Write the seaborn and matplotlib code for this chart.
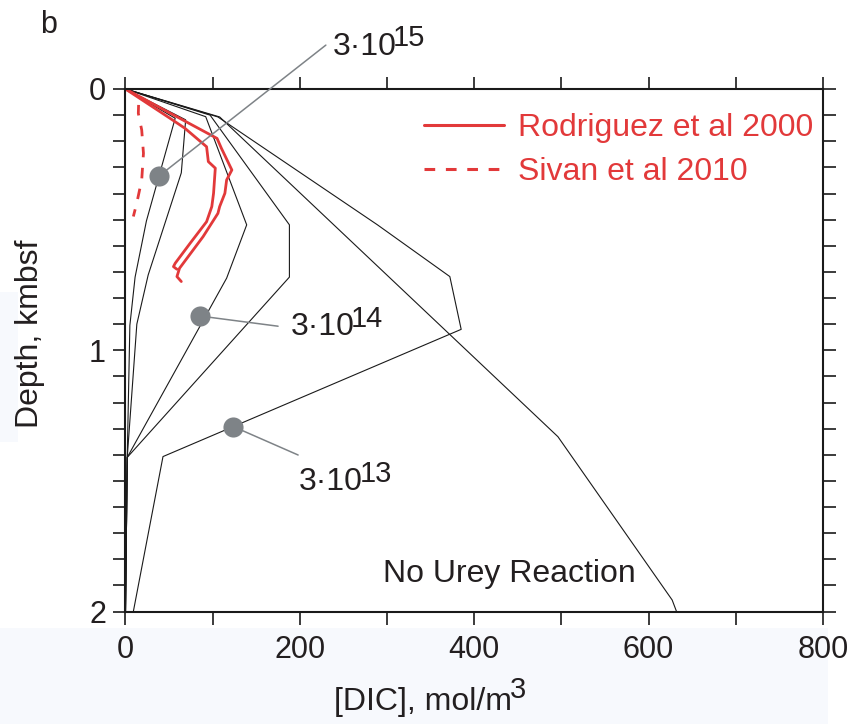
import numpy as np
import pandas as pd
import matplotlib
matplotlib.use("Agg")
import matplotlib.pyplot as plt
import seaborn as sns
from matplotlib.lines import Line2D
from matplotlib.patches import Rectangle

# ---------------- data ----------------
# model DIC profiles (x = DIC mol/m3, y = depth kmbsf)
no_urey_dic = [0, 108, 496, 627, 632]
no_urey_depth = [0, 0.107, 1.331, 1.956, 2.0]

k3e13_dic = [0, 106, 289, 372, 385, 43, 9]
k3e13_depth = [0, 0.107, 0.52, 0.718, 0.92, 1.407, 2.0]

k1e14_dic = [0, 97, 188, 188, 2, 0]
k1e14_depth = [0, 0.10, 0.52, 0.72, 1.41, 2.0]

k3e14_dic = [0, 92, 139, 116, 2, 0]
k3e14_depth = [0, 0.106, 0.52, 0.724, 1.41, 2.0]

k1e15_dic = [0, 69, 64, 26, 13, 2, 0]
k1e15_depth = [0, 0.118, 0.321, 0.712, 0.900, 1.41, 2.0]

k3e15_dic = [0, 57, 24, 11, 5, 2, 0]
k3e15_depth = [0, 0.112, 0.505, 0.720, 0.905, 1.41, 2.0]

# observations
rod_a_dic = [0, 51, 68, 93, 95, 103, 101, 99, 93, 74, 57, 55, 59]
rod_a_depth = [0, 0.112, 0.150, 0.221, 0.278, 0.303, 0.399, 0.450, 0.508, 0.591, 0.667, 0.680, 0.690]
rod_b_dic = [0, 66, 105, 110, 122, 116, 114, 108, 106, 89, 62, 59, 64]
rod_b_depth = [0, 0.119, 0.189, 0.227, 0.310, 0.348, 0.399, 0.450, 0.476, 0.565, 0.686, 0.718, 0.737]
sivan_dic = [15, 14.7, 18.6, 20.6, 18.6, 12.9, 9]
sivan_depth = [0.061, 0.093, 0.157, 0.246, 0.348, 0.437, 0.488]

# labelled points on curves
label_texts = ["15", "14", "13"]
label_dot_dic = [38.5, 85.4, 123.5]
label_dot_depth = [0.333, 0.869, 1.292]

x_ticks = [0, 200, 400, 600, 800]
y_ticks = [0, 1, 2]

# ---------------- style ----------------
sns.set_theme(style="white")
FONT = "Liberation Sans"
plt.rcParams["font.family"] = [FONT, "DejaVu Sans"]

RED = "#e2393a"
GRAY = "#7e8387"
TXT = "#231f20"
BG = "#f7f9fd"

fig = plt.figure(figsize=(8.58, 7.24), dpi=100)
# faint background bands seen in the reference
fig.patches.append(Rectangle((0, 0), 828 / 858, 96 / 724, transform=fig.transFigure,
                             facecolor=BG, edgecolor="none", zorder=-5))
fig.patches.append(Rectangle((0, 282 / 724), 18 / 858, 150 / 724, transform=fig.transFigure,
                             facecolor=BG, edgecolor="none", zorder=-5))
AX_L, AX_R, AX_T, AX_B = 125.5, 823.0, 89.0, 611.5
ax = fig.add_axes([AX_L / 858, 1 - AX_B / 724, (AX_R - AX_L) / 858, (AX_B - AX_T) / 724])
ax.set_facecolor("white")

def axfx(px):
    return (px - AX_L) / (AX_R - AX_L)

def axfy(py):
    return (AX_B - py) / (AX_B - AX_T)

def prof(xs, ys, **kw):
    df = pd.DataFrame({"dic": xs, "depth": ys})
    sns.lineplot(data=df, x="dic", y="depth", sort=False, estimator=None, ax=ax, **kw)

for xs, ys in [(no_urey_dic, no_urey_depth), (k3e13_dic, k3e13_depth),
               (k1e14_dic, k1e14_depth), (k3e14_dic, k3e14_depth),
               (k1e15_dic, k1e15_depth), (k3e15_dic, k3e15_depth)]:
    prof(xs, ys, color="#1a1a1a", lw=0.8)

prof(rod_a_dic, rod_a_depth, color=RED, lw=2.0)
prof(rod_b_dic, rod_b_depth, color=RED, lw=2.0)
prof(sivan_dic, sivan_depth, color=RED, lw=2.0, linestyle=(0, (3.8, 3.8)))

# annotation leader lines & dots
leader_end_dic = [229.8, 175, 198]
leader_end_depth = [-0.168, 0.908, 1.401]
for dx, dy, ex, ey in zip(label_dot_dic, label_dot_depth, leader_end_dic, leader_end_depth):
    ax.plot([dx, ex], [dy, ey], color=GRAY, lw=1.1, clip_on=False, zorder=4)
ax.scatter(label_dot_dic, label_dot_depth, s=210, color=GRAY, zorder=5, linewidths=0)

base_pos = [(237.8, -0.130), (189.3, 0.941), (199.2, 1.535)]
sup_pos = [(306.5, -0.163), (258.5, 0.910), (268.5, 1.503)]
for (bx, by), (sx, sy), s in zip(base_pos, sup_pos, label_texts):
    ax.text(bx, by, "3\u00b710", fontsize=23, color=TXT, ha="left", va="baseline", clip_on=False)
    ax.text(sx, sy, s, fontsize=21, color=TXT, ha="left", va="baseline", clip_on=False)

ax.text(295, 1.887, "No Urey Reaction", fontsize=23, color=TXT, ha="left", va="baseline")

# legend
handles = [Line2D([], [], color=RED, lw=2.2),
           Line2D([], [], color=RED, lw=2.2, linestyle=(0, (3.5, 3.5)))]
leg = ax.legend(handles, ["Rodriguez et al 2000", "Sivan et al 2010"],
                loc="upper left", bbox_to_anchor=(424 / 858, 1 - 113 / 724),
                bbox_transform=fig.transFigure, frameon=False, fontsize=23,
                handlelength=2.5, handletextpad=0.45, labelspacing=0.45,
                borderpad=0, borderaxespad=0, labelcolor=RED)

# axes
ax.set_xlim(0, 800)
ax.set_ylim(2, 0)
ax.set_xticks(np.arange(0, 801, 100))
ax.set_xticklabels([str(v) if v in x_ticks else "" for v in range(0, 801, 100)])
yt = np.round(np.arange(0, 2.001, 0.1), 1)
ax.set_yticks(yt)
ax.set_yticklabels([str(int(round(v))) if round(v, 6) in y_ticks else "" for v in yt])
ax.tick_params(axis="both", which="major", direction="out", length=9, width=1.2,
               color="#1a1a1a", labelsize=22, labelcolor=TXT,
               top=True, right=True, bottom=True, left=True)
ax.tick_params(axis="x", pad=8)
ax.tick_params(axis="y", pad=5)
for sp in ax.spines.values():
    sp.set_visible(True)
    sp.set_color("#1a1a1a")
    sp.set_linewidth(1.5)

# x label "[DIC], mol/m" with a full-size raised "3"
ax.set_xlabel("[DIC], mol/m", fontsize=23, color=TXT)
ax.xaxis.set_label_coords(axfx(512), axfy(710), transform=ax.transAxes)
ax.xaxis.label.set_ha("right")
ax.xaxis.label.set_va("baseline")
ax.text(axfx(510), axfy(698), "3", transform=ax.transAxes, fontsize=21, color=TXT,
        ha="left", va="baseline", clip_on=False)

ax.set_ylabel("Depth, kmbsf", fontsize=23, color=TXT)
ax.yaxis.set_label_coords(axfx(30.5), axfy(333.5), transform=ax.transAxes)
ax.yaxis.label.set_va("center")

fig.text(40 / 858, 1 - 33 / 724, "b", fontsize=22, color=TXT, ha="left", va="baseline")

fig.savefig("out.png", dpi=100, facecolor="white")
